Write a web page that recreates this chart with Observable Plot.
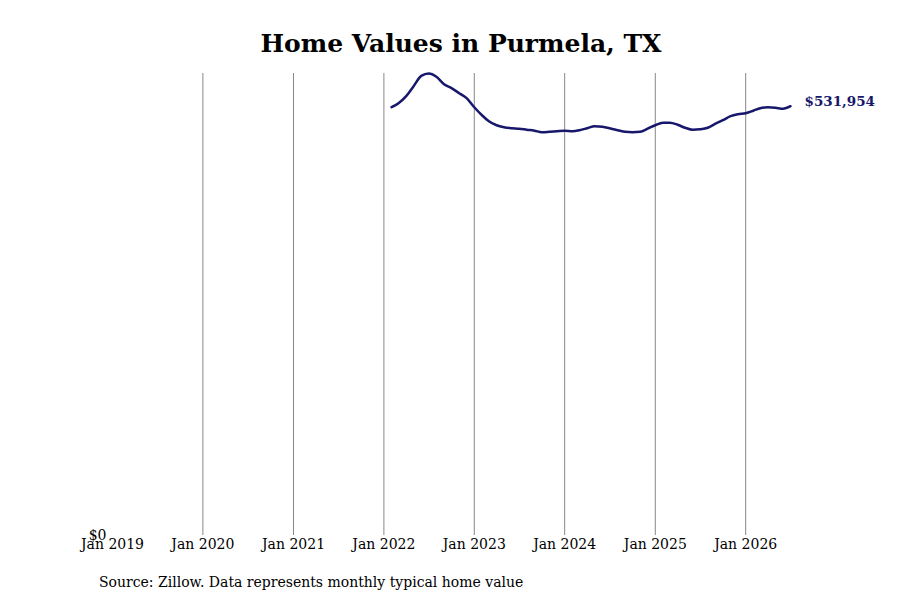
<!DOCTYPE html>
<html>
<head>
<meta charset="utf-8">
<script src="https://cdn.jsdelivr.net/npm/d3@7"></script>
<script src="https://cdn.jsdelivr.net/npm/@observablehq/plot@0.6"></script>
<style>
  html, body { margin: 0; padding: 0; background: #fff; }
  #wrap { position: relative; width: 900px; height: 600px; overflow: hidden; font-family: "DejaVu Serif", serif; background: #fff; }
  #title { position: absolute; z-index: 2; left: 0; width: 922px; top: 28px; text-align: center; font-size: 25px; font-weight: bold; color: #000; line-height: 32px; }
  #chart { position: absolute; z-index: 1; left: 0; top: 40px; }
  #caption { position: absolute; z-index: 2; left: 99px; top: 573px; font-size: 14px; color: #000; line-height: 18px; }
</style>
</head>
<body>
<div id="wrap">
  <div id="chart"></div>
  <div id="title">Home Values in Purmela, TX</div>
  <div id="caption">Source: Zillow. Data represents monthly typical home value</div>
</div>
<script>
const months = [
  "2022-02","2022-03","2022-04","2022-05","2022-06","2022-07","2022-08","2022-09","2022-10","2022-11","2022-12",
  "2023-01","2023-02","2023-03","2023-04","2023-05","2023-06","2023-07","2023-08","2023-09","2023-10","2023-11","2023-12",
  "2024-01","2024-02","2024-03","2024-04","2024-05","2024-06","2024-07","2024-08","2024-09","2024-10","2024-11","2024-12",
  "2025-01","2025-02","2025-03","2025-04","2025-05","2025-06","2025-07","2025-08","2025-09","2025-10","2025-11","2025-12",
  "2026-01","2026-02","2026-03","2026-04","2026-05","2026-06","2026-07"
];
const values = [
  530700, 535700, 544400, 556800, 569500, 572500, 568500, 559200, 554300, 548100, 541900,
  530700, 520800, 513400, 508400, 505900, 504700, 504100, 502800, 501600, 499700, 500300, 501000,
  501600, 501000, 502200, 504700, 507200, 506600, 504700, 502200, 500300, 499700, 500300, 504100,
  508400, 511500, 511500, 509000, 505300, 502800, 503400, 505300, 510300, 514600, 519600, 522000,
  523300, 526400, 529500, 530700, 530100, 528900, 531954
];
const xStart = "2019-01";
const xEnd = "2026-07";
const gridYears = ["2020-01","2021-01","2022-01","2023-01","2024-01","2025-01","2026-01"];
const tickYears = ["2019-01","2020-01","2021-01","2022-01","2023-01","2024-01","2025-01","2026-01"];
const yTicks = [0];

const parse = d3.utcParse("%Y-%m");
const data = months.map((m, i) => ({date: parse(m), value: values[i]}));
const last = data[data.length - 1];
const fmtMoney = d => "$" + d3.format(",")(d);
const navy = "#17176b";

const chart = Plot.plot({
  width: 900,
  height: 520,
  marginTop: 33,
  marginBottom: 25,
  marginLeft: 112,
  marginRight: 110,
  style: {fontFamily: "DejaVu Serif, serif", fontSize: "14px", color: "#000", background: "transparent"},
  x: {type: "utc", domain: [parse(xStart), parse(xEnd)]},
  y: {domain: [0, d3.max(values)]},
  marks: [
    Plot.gridX(gridYears.map(parse), {stroke: "#888", strokeOpacity: 1, strokeWidth: 1}),
    Plot.axisX(tickYears.map(parse), {tickFormat: d3.utcFormat("%b %Y"), tickSize: 0, tickPadding: 4, fontSize: 14, label: null}),
    Plot.axisY(yTicks, {tickFormat: fmtMoney, tickSize: 0, tickPadding: 6, fontSize: 14, label: null}),
    Plot.line(data, {x: "date", y: "value", stroke: navy, strokeWidth: 2.5, curve: "monotone-x"}),
    Plot.text([last], {x: "date", y: "value", text: d => fmtMoney(d.value), dx: 14, dy: -5, textAnchor: "start", fill: navy, fontWeight: "bold", fontSize: 13.5})
  ]
});
document.getElementById("chart").appendChild(chart);
</script>
</body>
</html>
